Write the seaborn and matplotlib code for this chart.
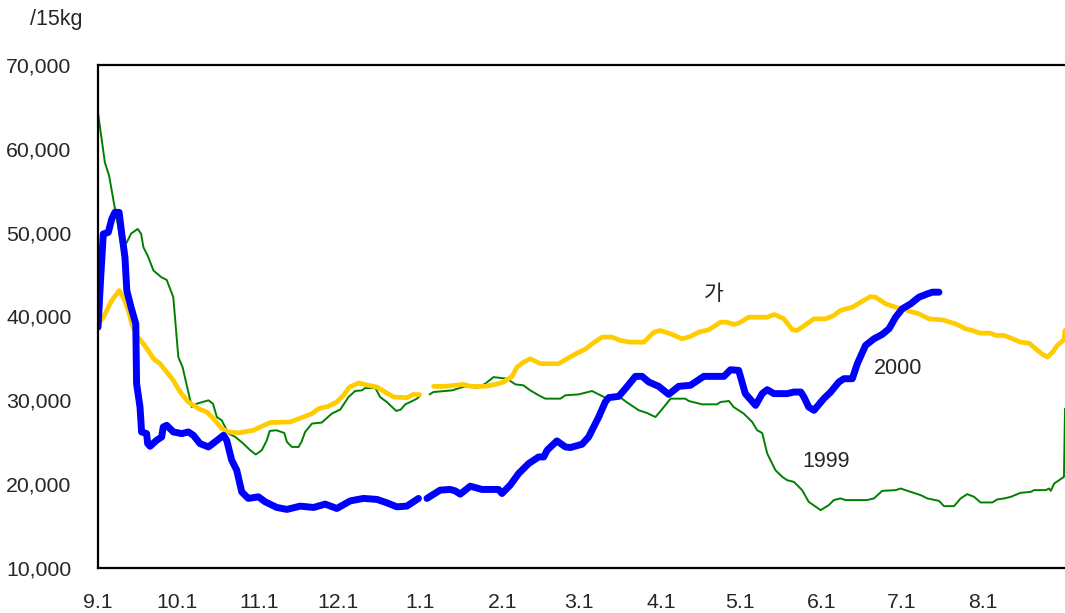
import numpy as np
import pandas as pd
import seaborn as sns
import matplotlib.pyplot as plt

# days counted from 9.1 (Sep 1); NaN marks the break at the new year
GREEN_DAY = [0, 2.6, 4.2, 9, 10.9, 12.5, 15, 16.3, 17.2, 18.8, 21, 24, 26, 28.5, 30.4, 32, 35.5, 37.4,
             41.8, 43.5, 45, 46.8, 49.4, 52, 55, 57.6, 59.7, 62, 63.9, 65, 67.5, 70.5, 71.5, 73.4, 75.9,
             77, 78.4, 81, 84.7, 88.5, 91.7, 94.8, 97.3, 99.9, 101, 105, 106.8, 109.3, 112.9, 114.6,
             116.3, 118.2, 120.7, 121.7, np.nan, 125.5, 127, 134, 139, 143.4, 146.6, 149.7, 151.6,
             154.8, 158, 161, 163.6, 166.8, 169.3, 175, 176.9, 181.9, 187, 189.5, 192, 198, 200,
             204.7, 207.8, 211, 214, 216.7, 222.3, 223.6, 228.7, 234.3, 235.6, 238.8, 240.6, 244.4,
             247.6, 249.5, 251.4, 253.3, 256.4, 259, 260.8, 263.4, 266.5, 269, 273.5, 276.6, 278.5,
             281, 283, 291, 293.7, 296.8, 301.9, 303.8, 307.6, 311.4, 313.9, 318.3, 320.2, 324,
             326.5, 329, 331.6, 334, 338.5, 340.4, 343, 345.5, 349.2, 353, 354.3, 358.7, 360, 360.6,
             361.9, 363.8, 365.6, 366]
GREEN_VAL = [64290, 58370, 56790, 48250, 48850, 49880, 50440, 49880, 48250, 47260, 45480, 44680, 44370,
             42300, 35160, 33970, 29200, 29600, 30000, 29600, 28010, 27620, 26030, 25630, 24840, 24050,
             23540, 24050, 25240, 26350, 26430, 26110, 25040, 24440, 24440, 25040, 26230, 27230, 27350,
             28420, 28900, 30390, 31110, 31190, 31460, 31460, 30390, 29800, 28730, 28900, 29520, 29800,
             30200, 30480, np.nan, 30710, 30990, 31190, 31670, 31510, 31990, 32770, 32700, 32580, 31900,
             31790, 31190, 30600, 30200, 30200, 30600, 30710, 31110, 30710, 30320, 30270, 29800, 28810,
             28490, 28010, 29130, 30200, 30200, 29920, 29520, 29520, 29800, 29920, 29200, 28420, 27420,
             26430, 26100, 23650, 21670, 20870, 20480, 20270, 19290, 17890, 16900, 17500, 18100, 18300,
             18100, 18100, 18300, 19200, 19290, 19480, 19080, 18690, 18300, 18010, 17380, 17380, 18300,
             18810, 18490, 17820, 17820, 18180, 18300, 18490, 18970, 19080, 19290, 19290, 19480, 19200,
             20080, 20480, 20870, 29000]

BLUE_DAY = [0, 1.1, 2, 3.9, 5.2, 6.4, 8, 9, 10.2, 10.9, 12.5, 14.3, 14.6, 15.9, 16.5, 18.4, 18.8, 19.7,
            22.2, 24.1, 24.7, 26, 28.5, 31.7, 34.2, 36.1, 38.6, 41.8, 44.3, 47.5, 48.7, 50.6, 52.5,
            54.4, 56.9, 60.7, 63.3, 67.7, 71.5, 76.5, 81.6, 86, 90.4, 95.5, 100.5, 105.6, 109.3, 113.1,
            116.9, 121.3, np.nan, 124.5, 129.5, 133.3, 135.2, 137.1, 140.9, 145.3, 151.6, 152.9, 156,
            159.2, 163, 166.8, 168.7, 170, 173.7, 176.9, 178.8, 183.2, 185.7, 187.6, 189.5, 192, 193.3,
            197.1, 199.6, 203.4, 205.9, 208.5, 212.2, 216, 219.8, 224.2, 229.3, 236.9, 239.4, 242.5,
            245, 248.9, 251.4, 253.3, 255.8, 260.8, 263.4, 266, 267.2, 269, 271, 274.7, 277.3, 280.4,
            282.3, 285.5, 287.4, 290.5, 293.7, 296.8, 299.4, 301.9, 304.4, 307.6, 310.7, 313.9, 315.8,
            318.3]
BLUE_VAL = [38730, 45080, 49840, 50040, 51630, 52420, 52420, 49840, 47060, 43100, 41110, 39130, 31990,
            29200, 26230, 26030, 24840, 24520, 25240, 25630, 26820, 27020, 26230, 26030, 26230, 25830,
            24840, 24440, 25040, 25830, 25240, 22860, 21670, 19080, 18300, 18490, 17890, 17220, 16990,
            17380, 17220, 17620, 17100, 18010, 18300, 18180, 17780, 17300, 17380, 18300, np.nan, 18300,
            19290, 19370, 19200, 18810, 19760, 19370, 19370, 18890, 19880, 21270, 22460, 23250, 23250,
            24050, 25160, 24440, 24370, 24760, 25630, 26820, 28010, 29800, 30320, 30480, 31390, 32860,
            32860, 32180, 31670, 30710, 31670, 31790, 32860, 32860, 33650, 33570, 30800, 29400, 30800,
            31270, 30800, 30800, 30990, 30990, 30390, 29200, 28810, 30200, 30990, 32180, 32580, 32580,
            34370, 36550, 37340, 37860, 38540, 39920, 40920, 41510, 42300, 42700, 42900, 42900]

YELLOW_DAY = [0, 2.7, 5.2, 8, 9.6, 11.5, 12.8, 14.6, 17.2, 19, 21, 23.5, 26, 28.5, 31.1, 34.2, 38, 41.2,
              43.7, 46.8, 49.4, 53.1, 58.8, 62, 65.2, 72.7, 77.8, 81, 83.5, 87.2, 90.4, 92.9, 95.2,
              98.6, 102.4, 105.6, 108.7, 111.9, 116.9, 119.4, 121.7, np.nan, 127, 131.4, 138.4, 140.9,
              146.6, 150.4, 153.5, 156.7, 158.6, 161.1, 163.6, 167.4, 174.4, 177.5, 181.3, 184.5, 187,
              190.8, 194.6, 197.7, 201.5, 206.6, 210.4, 212.9, 217.3, 221.1, 224.2, 227.4, 231.2,
              235.6, 238.1, 240.6, 242.5, 246.3, 253.3, 256, 259.6, 262.8, 264.5, 266.5, 271, 275.4,
              278.5, 281, 285.5, 288.6, 292.4, 294.3, 298.1, 301.9, 306.3, 310.7, 314.5, 319.6, 324.6,
              328.4, 331, 334, 337.9, 339.8, 343, 346.1, 349.2, 352.4, 354.9, 357.5, 359.4, 361.3,
              363.1, 365.6, 366]
YELLOW_VAL = [38930, 40320, 41900, 43100, 42300, 40720, 39130, 37740, 36750, 35950, 34960, 34370, 33370,
              32380, 30990, 29800, 29010, 28610, 27820, 26630, 26230, 26110, 26430, 26900, 27350, 27420,
              28010, 28420, 29010, 29290, 29800, 30600, 31580, 32060, 31790, 31580, 30990, 30390, 30320,
              30710, 30680, np.nan, 31670, 31670, 31900, 31670, 31670, 31900, 32180, 32860, 33970, 34560,
              34960, 34370, 34370, 34960, 35630, 36110, 36750, 37540, 37540, 37140, 36940, 36940, 38130,
              38330, 37860, 37340, 37620, 38130, 38420, 39320, 39320, 39050, 39200, 39920, 39920, 40240,
              39720, 38420, 38330, 38730, 39720, 39720, 40120, 40720, 41110, 41700, 42380, 42300, 41510,
              41110, 40720, 40320, 39720, 39600, 39130, 38540, 38330, 38010, 38010, 37740, 37740, 37340,
              36940, 36820, 36150, 35480, 35160, 35750, 36550, 37220, 38330]

MONTH_DAYS = [0, 30, 61, 91, 122, 153, 182, 213, 243, 274, 304, 335]
MONTH_LABELS = ["9.1", "10.1", "11.1", "12.1", "1.1", "2.1", "3.1", "4.1", "5.1", "6.1", "7.1", "8.1"]


def to_frame(days, vals):
    df = pd.DataFrame({"day": days, "price": vals})
    df["seg"] = df["day"].isna().cumsum()
    return df.dropna()


def main():
    sns.set_style("white")
    plt.rcParams["font.family"] = ["Liberation Sans", "Noto Sans CJK KR", "DejaVu Sans"]

    fig = plt.figure(figsize=(10.65, 6.13), dpi=100)
    ax = fig.add_axes([98 / 1065, 45 / 613, 1 - 98 / 1065, 503 / 613])

    sns.lineplot(data=to_frame(GREEN_DAY, GREEN_VAL), x="day", y="price", units="seg",
                 estimator=None, color="#008000", lw=1.4, ax=ax)
    sns.lineplot(data=to_frame(YELLOW_DAY, YELLOW_VAL), x="day", y="price", units="seg",
                 estimator=None, color="#FFCC00", lw=3.4, ax=ax)
    sns.lineplot(data=to_frame(BLUE_DAY, BLUE_VAL), x="day", y="price", units="seg",
                 estimator=None, color="#0000FF", lw=5, ax=ax)

    ax.set_xlim(0, 366)
    ax.set_ylim(10000, 70000)
    ax.set_xticks(MONTH_DAYS)
    ax.set_xticklabels(MONTH_LABELS)
    ax.set_yticks(range(10000, 70001, 10000))
    ax.set_yticklabels([f"{v:,}" for v in range(10000, 70001, 10000)])
    ax.set_xlabel("")
    ax.set_ylabel("")
    ax.tick_params(axis="both", direction="in", length=5, width=1.3, labelsize=15.3, color="black")
    ax.tick_params(axis="y", pad=19)
    ax.tick_params(axis="x", pad=18)
    for side in ["left", "bottom", "top"]:
        ax.spines[side].set_color("black")
        ax.spines[side].set_linewidth(1.6)
    ax.spines["right"].set_visible(False)

    ax.text(233, 42700, "가", fontsize=15.5, ha="center", va="center",
            family=["Noto Sans CJK KR", "DejaVu Sans"])
    ax.text(302.7, 33800, "2000", fontsize=15.5, ha="center", va="center")
    ax.text(275.4, 22700, "1999", fontsize=15.5, ha="center", va="center")
    fig.text(30 / 1065, 1 - 20 / 613, "/15kg", fontsize=15.5, ha="left", va="center")

    fig.savefig("out.png", dpi=100)


if __name__ == "__main__":
    main()
